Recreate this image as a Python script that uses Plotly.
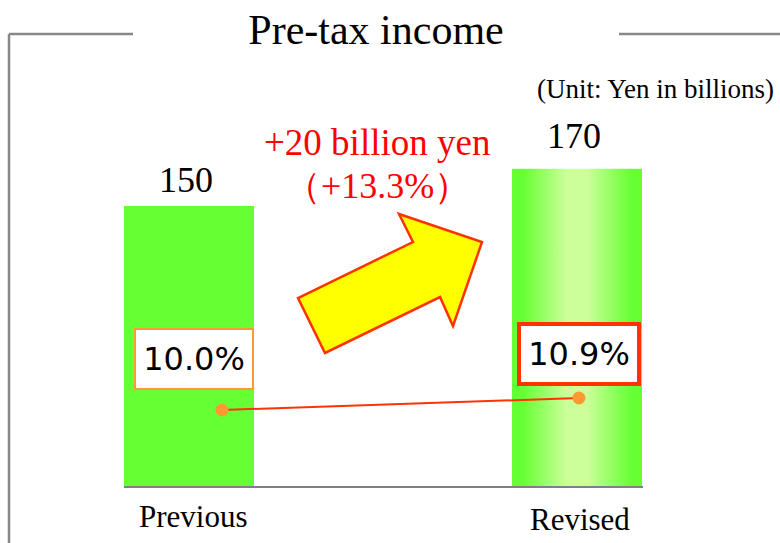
import plotly.graph_objs as go

#####################################################################################
# Data
#####################################################################################
categories = ['Previous', 'Revised']
income = [150, 170]                      # billion yen
margin_pct = [10.0, 10.9]                # pre-tax margin, %
margin_labels = ['10.0%', '10.9%']
change_text = '+20 billion yen'
change_pct_text = '（+13.3%）'
title_text = 'Pre-tax income'
unit_text = '(Unit: Yen in billions)'

#####################################################################################
# Layout helpers (pixel -> paper, plot area = l124 r137 t100 b57 in a 780x543 page)
#####################################################################################
W, H = 780, 543
L, R, T, B = 124, 137, 100, 57
PW, PH = W - L - R, H - T - B


def px(x):
    return (x - L) / PW


def py(y):
    return (H - B - y) / PH


SERIF = 'Liberation Serif, Times New Roman, serif'
SANS = 'DejaVu Sans, Verdana, sans-serif'
GREEN = '#66ff33'
bar_w = 0.335
idx = list(range(len(categories)))
marker_offset = [0.085, 0.005]

#####################################################################################
# Figure
#####################################################################################
data = [go.Bar(x=idx, y=income, width=bar_w, marker=dict(color=GREEN, line=dict(width=0)),
               hoverinfo='skip')]

# gradient overlay on the revised bar
rx0, rx1 = idx[1] - bar_w / 2, idx[1] + bar_w / 2
data.append(go.Scatter(x=[rx0, rx1, rx1, rx0, rx0], y=[0, 0, income[1], income[1], 0],
                       mode='lines', fill='toself', line=dict(width=0), hoverinfo='skip',
                       fillgradient=dict(type='horizontal',
                                         colorscale=[[0, GREEN], [0.08, GREEN], [0.42, '#ccff99'],
                                                     [0.58, '#ccff99'], [0.92, GREEN], [1, GREEN]])))

line_x = [i + o for i, o in zip(idx, marker_offset)]
data.append(go.Scatter(x=line_x, y=margin_pct, yaxis='y2', mode='lines+markers',
                       line=dict(color='#ff3300', width=2),
                       marker=dict(color='#ff9933', size=13), hoverinfo='skip'))

annotations = []
for i, v, ys in zip(idx, income, [4, 11]):
    annotations.append(dict(x=i, y=v, xref='x', yref='y', text=str(v), showarrow=False,
                            xanchor='center', yanchor='bottom', xshift=-3, yshift=ys,
                            font=dict(family=SERIF, size=36, color='black')))

label_pos = [(193, 516), (580, 519)]
for c, (lx, ly) in zip(categories, label_pos):
    annotations.append(dict(x=px(lx), y=py(ly), xref='paper', yref='paper', text=c,
                            showarrow=False, xanchor='center', yanchor='middle',
                            font=dict(family=SERIF, size=31, color='black')))

box_style = [dict(bordercolor='#ff9933', borderwidth=2, xshift=-28, yshift=51, width=116, height=58),
             dict(bordercolor='#ff3300', borderwidth=4, xshift=0, yshift=44, width=116, height=56)]
for x, v, lab, st in zip(line_x, margin_pct, margin_labels, box_style):
    annotations.append(dict(x=x, y=v, xref='x', yref='y2', text=lab, showarrow=False,
                            bgcolor='white', borderpad=0, align='center', valign='middle',
                            xanchor='center', yanchor='middle',
                            font=dict(family=SANS, size=32, color='black'), **st))

annotations.append(dict(x=px(377), y=py(143), xref='paper', yref='paper', text=change_text,
                        showarrow=False, xanchor='center', yanchor='middle',
                        font=dict(family=SERIF, size=37, color='#ff0000')))
annotations.append(dict(x=px(377), y=py(186), xref='paper', yref='paper', text=change_pct_text,
                        showarrow=False, xanchor='center', yanchor='middle',
                        font=dict(family=SERIF, size=36, color='#ff0000')))
annotations.append(dict(x=px(655), y=py(89), xref='paper', yref='paper', text=unit_text,
                        showarrow=False, xanchor='center', yanchor='middle',
                        font=dict(family=SERIF, size=27, color='black')))

frame = dict(type='line', xref='paper', yref='paper', line=dict(color='#888888', width=2.5))
shapes = [dict(frame, x0=px(9), x1=px(9), y0=py(34), y1=py(560)),
          dict(frame, x0=px(9), x1=px(133), y0=py(34), y1=py(34)),
          dict(frame, x0=px(619), x1=px(790), y0=py(34), y1=py(34))]

arrow_pts = [(298, 298), (413, 242), (399, 214), (482, 242), (453, 326), (440, 297), (325, 353)]
arrow_path = 'M ' + ' L '.join('%.4f %.4f' % (px(a), py(b)) for a, b in arrow_pts) + ' Z'
shapes.append(dict(type='path', xref='paper', yref='paper', path=arrow_path,
                   fillcolor='#ffff00', line=dict(color='#ff3300', width=2.5)))

layout = go.Layout(width=W, height=H, margin=dict(l=L, r=R, t=T, b=B),
                   title=dict(text=title_text, x=376 / W, xanchor='center', y=1 - 29 / H, yanchor='middle',
                              font=dict(family=SERIF, size=42, color='black')),
                   xaxis=dict(range=[-bar_w / 2, -bar_w / 2 + PW / 388], showticklabels=False, ticks='',
                              showgrid=False, zeroline=False, showline=True, linecolor='#808080', linewidth=2),
                   yaxis=dict(range=[0, PH / 1.8667], visible=False, showgrid=False),
                   yaxis2=dict(range=[10 - 76 / 13.33, 10 - 76 / 13.33 + PH / 13.33], overlaying='y',
                               visible=False, showgrid=False),
                   bargap=0, showlegend=False, paper_bgcolor='white', plot_bgcolor='white',
                   annotations=annotations, shapes=shapes)

fig = go.Figure(data=data, layout=layout)
fig.write_html('out.html', config=dict(displayModeBar=False),
               post_script="document.body.style.margin='0';")
